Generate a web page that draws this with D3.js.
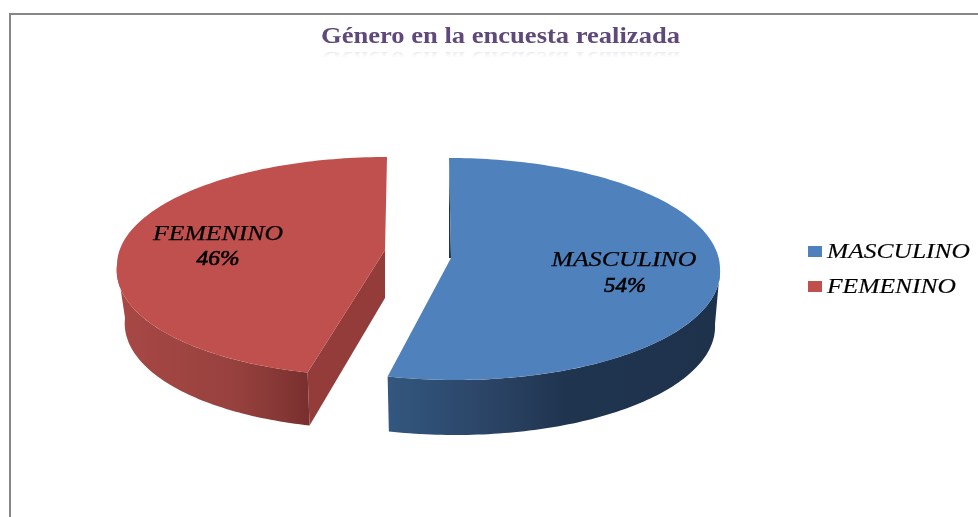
<!DOCTYPE html>
<html><head><meta charset="utf-8">
<script src="https://d3js.org/d3.v7.min.js"></script>
<style>
html,body{margin:0;padding:0;background:#fff;overflow:hidden}
#c{position:absolute;left:0;top:0}
#c text{filter:blur(0.35px)}
#t{position:absolute;left:300px;top:22px;width:400px;height:25px;filter:blur(0.35px);
 -webkit-box-reflect:below 1px linear-gradient(to bottom,transparent 62%,rgba(255,255,255,.2) 100%);}
</style></head><body>
<svg id="c" width="978" height="517"></svg>
<div id="t"></div>
<script>
const titleText = "Género en la encuesta realizada";
const categories = ["MASCULINO", "FEMENINO"];
const values = [54, 46];
const faceColors = ["#4f81bd", "#c0504d"];
const sideStops = [
  [[388,"#33577f"],[500,"#2a4263"],[565,"#1f344f"],[720,"#1e324c"]],
  [[117,"#a84845"],[235,"#97413e"],[285,"#833634"],[312,"#772e2d"]]
];
const innerColors = ["#1d344f", "#933c3a"];
// Slice geometry: each exploded slice has its own ellipse, apex and lean
const geom = [
  {cx:449, cy:269, rx:271, ry:111, ryF:111, rxB:266, depth:55, lean:0.056, apex:[451,258], apexDepth:0},
  {cx:387, cy:265, rx:270, ry:108, ryF:111, rxB:262, depth:53, lean:-0.114, apex:[385,250], apexDepth:48}
];
const labelPos = [[624,266,625,292],[218,240,218,265]];
const labelW = [145,130];
const pctW = [42,43];
const legendW = [143,129];
const legendY = [258,293];

const svg = d3.select("#c");
const defs = svg.append("defs");
const arcs = d3.pie().sort(null)(values);
const line = d3.line();

function rim(g, a, bottom){
  const r = bottom ? g.rxB : g.rx;
  const cy = g.cy + (bottom ? g.depth : 0);
  const c = -Math.cos(a);
  const dy = c*(c>0 ? g.ryF : g.ry);
  return [g.cx + r*Math.sin(a) + (dy>0 ? g.lean*dy : 0), cy + dy];
}
function sweep(a0,a1){
  const n = Math.max(2, Math.ceil(Math.abs(a1-a0)/0.02));
  return d3.range(n+1).map(i => a0 + (a1-a0)*i/n);
}

// border
svg.append("path").attr("d","M10,517V14H978").attr("fill","none").attr("stroke","#868686").attr("stroke-width",2);

const order = [1,0];
order.forEach(i=>{
  const g = geom[i], s = arcs[i];
  const id = "side"+i;
  const grad = defs.append("linearGradient").attr("id",id).attr("gradientUnits","userSpaceOnUse")
    .attr("x1",sideStops[i][0][0]).attr("x2",sideStops[i][sideStops[i].length-1][0]).attr("y1",0).attr("y2",0);
  const x0 = sideStops[i][0][0], x1 = sideStops[i][sideStops[i].length-1][0];
  sideStops[i].forEach(st=>grad.append("stop").attr("offset",(st[0]-x0)/(x1-x0)).attr("stop-color",st[1]));

  // outer wall: only the front half of the rim is visible
  const a0 = Math.max(s.startAngle, Math.PI/2), a1 = Math.min(s.endAngle, Math.PI*1.5);
  const top = sweep(a0,a1).map(a=>rim(g,a,false));
  const bot = sweep(a1,a0).map(a=>rim(g,a,true));
  svg.append("path").attr("d",line(top.concat(bot))+"Z").attr("fill",`url(#${id})`);

  // inner cut wall
  if(i===1){
    const e = rim(g,s.startAngle,false), eb = rim(g,s.startAngle,true);
    svg.append("path").attr("d",line([g.apex,[g.apex[0],g.apex[1]+g.apexDepth],eb,e])+"Z").attr("fill",innerColors[i]);
  } else {
    const e = rim(g,s.startAngle,false);
    svg.append("path").attr("d",line([e,g.apex,[g.apex[0]-2,g.apex[1]]])+"Z").attr("fill",innerColors[i]);
  }

  // top face
  const face = sweep(s.startAngle,s.endAngle).map(a=>rim(g,a,false));
  svg.append("path").attr("d",line([g.apex].concat(face))+"Z").attr("fill",faceColors[i]);
});

// data labels
const tf = `"Liberation Serif","Times New Roman",serif`;
function txt(x,y,t,w,anchorMid,extra){
  const n = svg.append("text").attr("x",x).attr("y",y).text(t)
    .attr("font-family",tf).attr("font-style","italic").attr("font-size",20).attr("fill","#000")
    .attr("textLength",w).attr("lengthAdjust","spacingAndGlyphs");
  if(anchorMid) n.attr("text-anchor","middle");
  if(extra) n.attr("stroke","#000").attr("stroke-width",extra);
  return n;
}
categories.forEach((c,i)=>{
  const p = labelPos[i];
  txt(p[0],p[1],c,labelW[i],true,0.25);
  txt(p[2],p[3],values[i]+"%",pctW[i],true,0.6);
});

// legend
const legendScale = d3.scaleOrdinal().domain(categories).range(legendY);
categories.forEach((c,i)=>{
  const y = legendScale(c);
  svg.append("rect").attr("x",808).attr("y",y-12).attr("width",14).attr("height",11).attr("fill",faceColors[i]);
  txt(827,y,c,legendW[i],false,0.15);
});

// title
d3.select("#t").append("svg").attr("width",400).attr("height",25).style("display","block")
  .append("text").attr("x",21).attr("y",21).text(titleText)
  .attr("font-family",tf).attr("font-weight","bold").attr("font-size",24).attr("fill","#5f497a")
  .attr("textLength",359).attr("lengthAdjust","spacingAndGlyphs");
</script>
</body></html>
